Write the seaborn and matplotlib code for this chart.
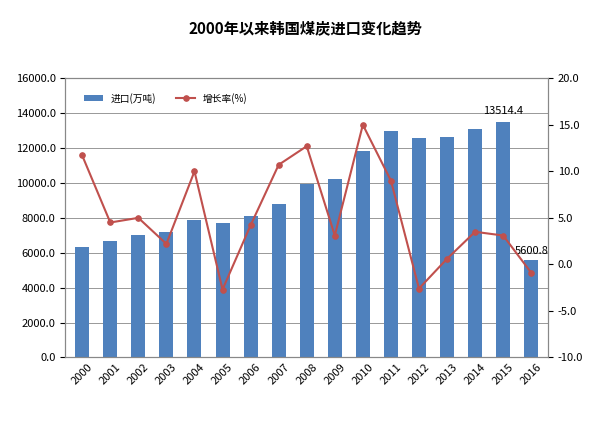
import matplotlib
matplotlib.use("Agg")
import matplotlib.pyplot as plt
import seaborn as sns
import pandas as pd

years = [str(y) for y in range(2000, 2017)]
imports = [6350, 6650, 7000, 7200, 7850, 7700, 8100, 8800, 9950, 10250, 11850, 12950, 12600, 12650, 13100, 13514.4, 5600.8]
growth = [11.7, 4.5, 5.0, 2.2, 10.0, -2.7, 4.2, 10.7, 12.7, 3.1, 15.0, 9.0, -2.6, 0.6, 3.5, 3.1, -0.9]

plt.rcParams["font.family"] = "sans-serif"
plt.rcParams["font.sans-serif"] = ["Noto Sans CJK SC", "Noto Sans CJK JP", "Noto Sans CJK TC", "DejaVu Sans"]
df = pd.DataFrame({"year": years, "imp": imports, "g": growth})

fig = plt.figure(figsize=(6.11, 4.23), dpi=100)
ax = fig.add_axes([0.107, 0.155, 0.79, 0.66])
sns.barplot(data=df, x="year", y="imp", color="#4F81BD", width=0.5, ax=ax, label="进口(万吨)", saturation=1)
ax.set_ylim(0, 16000)
ax.set_yticks(range(0, 16001, 2000))
ax.set_yticklabels([f"{v:.1f}" for v in range(0, 16001, 2000)], fontsize=8)
ax.grid(axis="y", color="#888888", lw=0.6)
ax.set_axisbelow(True)
ax.set_xlabel(""); ax.set_ylabel("")
ax.tick_params(axis="x", labelsize=8, rotation=45, length=0)
ax2 = ax.twinx()
sns.lineplot(x=list(range(len(years))), y=growth, color="#C0504D", marker="o", markersize=4, markeredgecolor="#C0504D", lw=1.5, ax=ax2, label="增长率(%)")
ax2.set_ylim(-10, 20)
ax2.set_yticks(range(-10, 21, 5))
ax2.set_yticklabels([f"{v:.1f}" for v in range(-10, 21, 5)], fontsize=8)
for a in (ax, ax2):
    for s in a.spines.values():
        s.set_color("#888888")
h1, l1 = ax.get_legend_handles_labels()
h2, l2 = ax2.get_legend_handles_labels()
ax2.legend(h1 + h2, l1 + l2, loc="upper left", ncol=2, frameon=False, fontsize=7, bbox_to_anchor=(0.02, 0.98))
if ax.get_legend():
    ax.get_legend().remove()
ax.text(15, 13514.4 + 300, "13514.4", ha="center", va="bottom", fontsize=8)
ax.text(16, 5600.8 + 200, "5600.8", ha="center", va="bottom", fontsize=8)
ax.set_xlim(-0.6, 16.6)
fig.suptitle("2000年以来韩国煤炭进口变化趋势", y=0.95, fontsize=11, fontweight="bold")
fig.savefig("out.png", dpi=100)
